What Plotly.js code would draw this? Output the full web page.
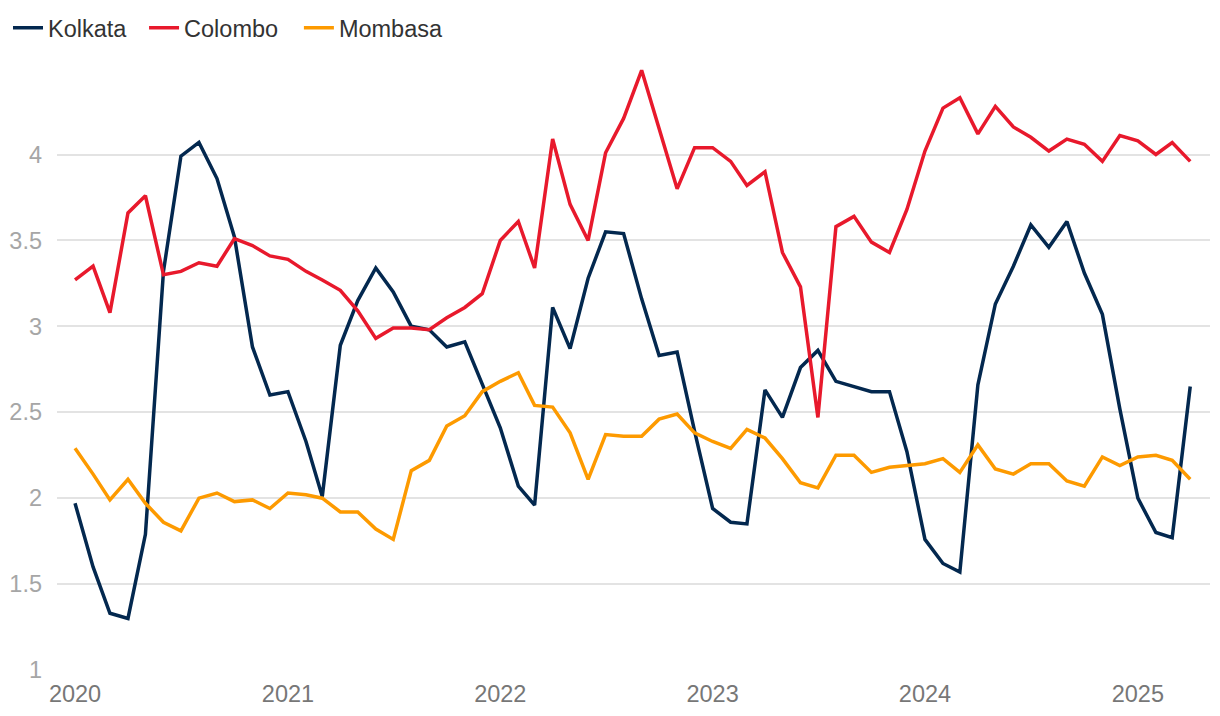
<!DOCTYPE html>
<html>
<head>
<meta charset="utf-8">
<script src="https://cdn.plot.ly/plotly-3.0.1.min.js"></script>
<style>
  html, body { margin: 0; padding: 0; background: #ffffff; }
  #chart { width: 1220px; height: 716px; }
</style>
</head>
<body>
<div id="chart"></div>
<script>
const months = [
  "2020-01","2020-02","2020-03","2020-04","2020-05","2020-06","2020-07","2020-08","2020-09","2020-10","2020-11","2020-12",
  "2021-01","2021-02","2021-03","2021-04","2021-05","2021-06","2021-07","2021-08","2021-09","2021-10","2021-11","2021-12",
  "2022-01","2022-02","2022-03","2022-04","2022-05","2022-06","2022-07","2022-08","2022-09","2022-10","2022-11","2022-12",
  "2023-01","2023-02","2023-03","2023-04","2023-05","2023-06","2023-07","2023-08","2023-09","2023-10","2023-11","2023-12",
  "2024-01","2024-02","2024-03","2024-04","2024-05","2024-06","2024-07","2024-08","2024-09","2024-10","2024-11","2024-12",
  "2025-01","2025-02","2025-03","2025-04"
];

const kolkata = [
  1.97,1.60,1.33,1.30,1.79,3.32,3.99,4.07,3.86,3.52,2.88,2.60,
  2.62,2.33,2.01,2.89,3.15,3.34,3.20,3.00,2.98,2.88,2.91,2.66,
  2.41,2.07,1.96,3.11,2.87,3.28,3.55,3.54,3.16,2.83,2.85,2.39,
  1.94,1.86,1.85,2.63,2.47,2.76,2.86,2.68,2.65,2.62,2.62,2.27,
  1.76,1.62,1.57,2.66,3.13,3.35,3.59,3.46,3.61,3.31,3.07,2.52,
  2.00,1.80,1.77,2.65
];

const colombo = [
  3.27,3.35,3.08,3.66,3.76,3.30,3.32,3.37,3.35,3.51,3.47,3.41,
  3.39,3.32,3.27,3.21,3.09,2.93,2.99,2.99,2.98,3.05,3.11,3.19,
  3.50,3.61,3.34,4.09,3.71,3.50,4.01,4.21,4.49,4.15,3.80,4.04,
  4.04,3.96,3.82,3.90,3.43,3.23,2.47,3.58,3.64,3.49,3.43,3.68,
  4.02,4.27,4.33,4.12,4.28,4.16,4.10,4.02,4.09,4.06,3.96,4.11,
  4.08,4.00,4.07,3.96
];

const mombasa = [
  2.29,2.14,1.99,2.11,1.97,1.86,1.81,2.00,2.03,1.98,1.99,1.94,
  2.03,2.02,2.00,1.92,1.92,1.82,1.76,2.16,2.22,2.42,2.48,2.62,
  2.68,2.73,2.54,2.53,2.38,2.11,2.37,2.36,2.36,2.46,2.49,2.38,
  2.33,2.29,2.40,2.35,2.23,2.09,2.06,2.25,2.25,2.15,2.18,2.19,
  2.20,2.23,2.15,2.31,2.17,2.14,2.20,2.20,2.10,2.07,2.24,2.19,
  2.24,2.25,2.22,2.11
];

const seriesNames = ["Kolkata", "Colombo", "Mombasa"];
const seriesColors = ["#03284f", "#e8192c", "#fd9a00"];
const legendIds = ["legend", "legend2", "legend3"];
const yTickVals = [1, 1.5, 2, 2.5, 3, 3.5, 4];
const yTickText = ["1", "1.5", "2", "2.5", "3", "3.5", "4"];
const xTickVals = ["2020-01-01","2021-01-01","2022-01-01","2023-01-01","2024-01-01","2025-01-01"];
const xTickText = ["2020","2021","2022","2023","2024","2025"];

const values = [kolkata, colombo, mombasa];
const traces = values.map((v, i) => ({
  type: "scatter",
  mode: "lines",
  name: seriesNames[i],
  legend: legendIds[i],
  x: months,
  y: v,
  line: { color: seriesColors[i], width: 3.5 },
  hoverinfo: "x+y+name"
}));

function legendAt(xPaper) {
  return {
    orientation: "h",
    x: xPaper,
    xanchor: "left",
    y: 1.0525,
    yanchor: "middle",
    font: { size: 23.5, color: "#333333" },
    itemwidth: 30,
    bgcolor: "rgba(0,0,0,0)"
  };
}

const layout = {
  width: 1220,
  height: 716,
  paper_bgcolor: "#ffffff",
  plot_bgcolor: "#ffffff",
  margin: { l: 57, r: 10, t: 60, b: 46, autoexpand: false },
  font: { family: "Liberation Sans, Arial, sans-serif", size: 23.5, color: "#333333" },
  showlegend: true,
  legend: legendAt(-0.0425),
  legend2: legendAt(0.0755),
  legend3: legendAt(0.2098),
  xaxis: {
    type: "date",
    range: ["2019-12-01", "2025-05-05"],
    tickvals: xTickVals,
    ticktext: xTickText,
    showgrid: false,
    zeroline: false,
    showline: false,
    ticks: "",
    ticklabelstandoff: 7,
    tickfont: { size: 23.5, color: "#777777" }
  },
  yaxis: {
    range: [1, 4.55],
    tickvals: yTickVals,
    ticktext: yTickText,
    showgrid: true,
    gridcolor: "#e3e3e3",
    gridwidth: 2,
    zeroline: false,
    showline: false,
    ticks: "",
    ticklabelstandoff: 14,
    tickfont: { size: 23.5, color: "#a6a6a6" }
  }
};

Plotly.newPlot("chart", traces, layout, { displayModeBar: false, staticPlot: true });
</script>
</body>
</html>
